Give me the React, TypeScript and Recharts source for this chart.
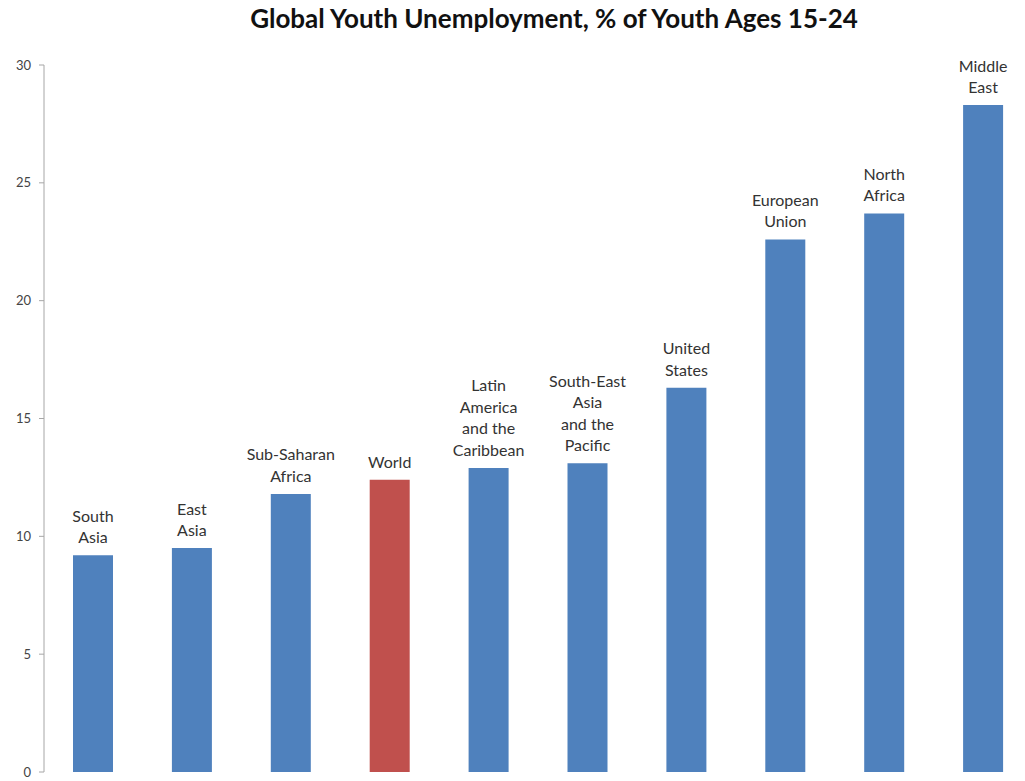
import { Bar, BarChart, Cell, LabelList, XAxis, YAxis } from 'recharts';

const categories = [
  'South Asia',
  'East Asia',
  'Sub-Saharan Africa',
  'World',
  'Latin America and the Caribbean',
  'South-East Asia and the Pacific',
  'United States',
  'European Union',
  'North Africa',
  'Middle East',
];
const labelLines = [
  ['South', 'Asia'],
  ['East', 'Asia'],
  ['Sub-Saharan', 'Africa'],
  ['World'],
  ['Latin', 'America', 'and the', 'Caribbean'],
  ['South-East', 'Asia', 'and the', 'Pacific'],
  ['United', 'States'],
  ['European', 'Union'],
  ['North', 'Africa'],
  ['Middle', 'East'],
];
const values = [9.2, 9.5, 11.8, 12.4, 12.9, 13.1, 16.3, 22.6, 23.7, 28.3];
const yTicks = [0, 5, 10, 15, 20, 25, 30];
const boundaryTicks = [0, 1, 2, 3, 4, 5, 6, 7, 8, 9, 10];
const highlight = 'World';

const data = categories.map((name, i) => ({ name, value: values[i], lines: labelLines[i] }));

const BLUE = '#4F81BD';
const RED = '#C0504D';
const AXIS = '#a6a6a6';
const FONT = 'Lato, "Open Sans", sans-serif';

function BarLabel(props: any) {
  const { x, y, width, index } = props;
  const lines = labelLines[index] || [];
  const cx = Number(x) + Number(width) / 2;
  const base = Number(y) - 12;
  const step = 21.5;
  return (
    <text x={cx} textAnchor="middle" fontSize={16} fill="#333" fontFamily={FONT}>
      {lines.map((l, i) => (
        <tspan key={i} x={cx} y={base - (lines.length - 1 - i) * step}>
          {l}
        </tspan>
      ))}
    </text>
  );
}

export default function App() {
  return (
    <div
      style={{
        position: 'fixed',
        left: 0,
        top: 0,
        width: 1025,
        height: 781,
        overflow: 'hidden',
        background: '#fff',
      }}
    >
      <div
        style={{
          position: 'absolute',
          top: 2,
          left: 0,
          width: 1108,
          textAlign: 'center',
          fontFamily: FONT,
          fontWeight: 700,
          fontSize: 26,
          color: '#111',
        }}
      >
        Global Youth Unemployment, % of Youth Ages 15-24
      </div>
      <BarChart
        width={1033}
        height={781}
        data={data}
        margin={{ top: 65, right: 0, bottom: 0, left: 0 }}
        barCategoryGap={0}
      >
        <XAxis xAxisId="cat" dataKey="name" hide />
        <XAxis
          xAxisId="edge"
          type="number"
          domain={[0, 10]}
          ticks={boundaryTicks}
          height={9}
          tick={false}
          tickSize={5}
          stroke={AXIS}
          allowDataOverflow
        />
        <YAxis
          width={44}
          domain={[0, 30]}
          ticks={yTicks}
          tickSize={5}
          tickMargin={8}
          stroke={AXIS}
          tick={{ fill: '#444', fontSize: 13, fontFamily: FONT }}
        />
        <Bar xAxisId="cat" dataKey="value" barSize={40} isAnimationActive={false}>
          {data.map((d) => (
            <Cell key={d.name} fill={d.name === highlight ? RED : BLUE} />
          ))}
          <LabelList dataKey="value" content={BarLabel} />
        </Bar>
      </BarChart>
    </div>
  );
}
